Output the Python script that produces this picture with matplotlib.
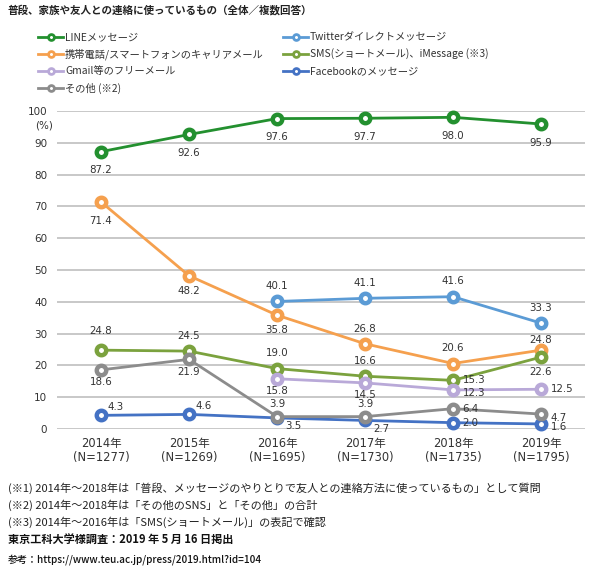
import numpy as np
import matplotlib
matplotlib.use("Agg")
import matplotlib.pyplot as plt
from matplotlib.lines import Line2D

plt.rcParams['font.family'] = ['Noto Sans CJK JP', 'DejaVu Sans']

years = ["2014年\n(N=1277)", "2015年\n(N=1269)", "2016年\n(N=1695)",
         "2017年\n(N=1730)", "2018年\n(N=1735)", "2019年\n(N=1795)"]

line_msg = [87.2, 92.6, 97.6, 97.7, 98.0, 95.9]
twitter_dm = [np.nan, np.nan, 40.1, 41.1, 41.6, 33.3]
carrier_mail = [71.4, 48.2, 35.8, 26.8, 20.6, 24.8]
sms = [24.8, 24.5, 19.0, 16.6, 15.3, 22.6]
gmail = [np.nan, np.nan, 15.8, 14.5, 12.3, 12.5]
facebook = [4.3, 4.6, 3.5, 2.7, 2.0, 1.6]
other = [18.6, 21.9, 3.9, 3.9, 6.4, 4.7]

names = ["LINEメッセージ", "Twitterダイレクトメッセージ",
         "携帯電話/スマートフォンのキャリアメール", "SMS(ショートメール)、iMessage (※3)",
         "Gmail等のフリーメール", "Facebookのメッセージ", "その他 (※2)"]
colors = ["#23902f", "#5b9bd5", "#f5a04e", "#7ba23e", "#b9a9d8", "#4472c4", "#8c8c8c"]

# label placement per point
# B/b = far/near below, A/a = far/near above, r = right, ur/lr = upper/lower right
pos_line = ["B"] * 6
pos_twitter = ["a"] * 6
pos_carrier = ["B", "b", "b", "a", "a", "s"]
pos_sms = ["A", "a", "a", "a", "r", "b"]
pos_gmail = ["c", "c", "c", "c", "rl", "r"]
pos_facebook = ["ur", "ur", "lr", "lr", "r", "rl"]
pos_other = ["c", "c", "d", "d", "r", "rl"]

offsets = {"B": (0, -13.5, "center"), "b": (0, -11, "center"),
           "c": (0, -9, "center"), "A": (0, 13.5, "center"),
           "a": (0, 11, "center"), "d": (0, 9, "center"), "s": (0, 7.5, "center"),
           "r": (7, 0, "left"), "rl": (7, -2.5, "left"),
           "ur": (5, 6, "left"), "lr": (6, -6, "left")}

fig = plt.figure(figsize=(6, 5.69), dpi=100)
ax = fig.add_axes([0.095, 0.246, 0.88, 0.559])

x = np.arange(len(years))
series = [
    (line_msg, pos_line),
    (twitter_dm, pos_twitter),
    (carrier_mail, pos_carrier),
    (sms, pos_sms),
    (gmail, pos_gmail),
    (facebook, pos_facebook),
    (other, pos_other),
]

for i, (vals, pos) in enumerate(series):
    c = colors[i]
    ax.plot(x, vals, color=c, lw=2.0, marker="o", ms=6.8, mfc="white",
            mec=c, mew=3.2, zorder=3 + i * 0.1, clip_on=False)
    for xi, v, p in zip(x, vals, pos):
        if np.isnan(v):
            continue
        dx, dy, ha = offsets[p]
        ax.annotate(f"{v:.1f}", (xi, v), xytext=(dx, dy), textcoords="offset points",
                    ha=ha, va="center", fontsize=7.4, color="#333333",
                    family=["DejaVu Sans"], zorder=10)

ax.set_xlim(-0.5, 5.5)
ax.set_ylim(0, 100)
ax.set_yticks(np.arange(0, 101, 10))
ax.set_xticks(x)
ax.set_xticklabels(years, fontsize=8.3, color="#333333", linespacing=1.1,
                   family=["DejaVu Sans", "Noto Sans CJK JP"])
for lab in ax.get_yticklabels():
    lab.set_fontsize(7.5)
    lab.set_color("#333333")
    lab.set_family(["DejaVu Sans"])
ax.tick_params(axis="y", length=0, pad=7)
ax.tick_params(axis="x", length=0, pad=6)
ax.grid(axis="y", color="#bfbfbf", lw=1.2)
ax.set_axisbelow(True)
for s in ax.spines.values():
    s.set_visible(False)
fig.text(44 / 600, 1 - 126 / 569, "(%)", fontsize=7.5, color="#333333", ha="center",
         va="center", family=["DejaVu Sans"])

# legend, two columns drawn by hand
leg_cols = [[0, 2, 4, 6], [1, 3, 5]]
col_x = [38, 283]
row_y = [37, 54, 71, 88]
for cx, col in zip(col_x, leg_cols):
    for ry, k in zip(row_y, col):
        yy = 1 - ry / 569
        fig.add_artist(Line2D([cx / 600, (cx + 25) / 600], [yy, yy], color=colors[k], lw=2.0))
        fig.add_artist(Line2D([(cx + 12.5) / 600], [yy], color=colors[k], marker="o",
                              ms=4.2, mfc="white", mec=colors[k], mew=2.0))
        fig.text((cx + 27) / 600, yy, names[k], fontsize=7.4, va="center",
                 color="#333333")

fig.text(8 / 600, 1 - 10 / 569, "普段、家族や友人との連絡に使っているもの（全体／複数回答）",
         fontsize=7.6, fontweight="bold", va="center", color="#222222")

notes = ["(※1) 2014年～2018年は「普段、メッセージのやりとりで友人との連絡方法に使っているもの」として質問",
         "(※2) 2014年～2018年は「その他のSNS」と「その他」の合計",
         "(※3) 2014年～2016年は「SMS(ショートメール)」の表記で確認"]
for k, t in enumerate(notes):
    fig.text(8 / 600, 1 - (488 + 17 * k) / 569, t, fontsize=8, va="center", color="#222222")
fig.text(8 / 600, 1 - 540 / 569, "東京工科大学様調査：2019 年 5 月 16 日掲出", fontsize=8,
         fontweight="bold", va="center", color="#111111")
fig.text(8 / 600, 1 - 560 / 569, "参考：https://www.teu.ac.jp/press/2019.html?id=104", fontsize=7.2,
         fontweight="medium", va="center", color="#111111")

fig.savefig("out.png", dpi=100)
